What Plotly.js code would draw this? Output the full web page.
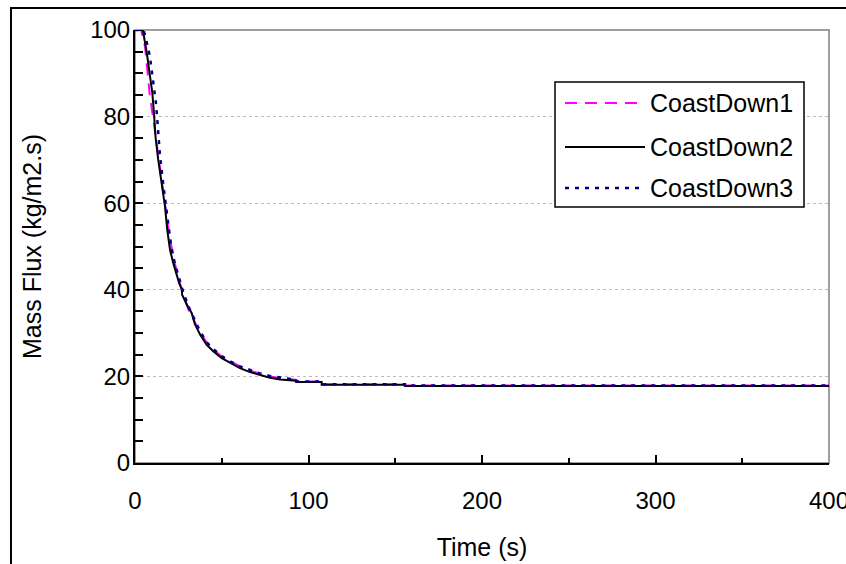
<!DOCTYPE html>
<html>
<head>
<meta charset="utf-8">
<script src="https://cdn.plot.ly/plotly-3.0.1.min.js"></script>
<style>html,body{margin:0;padding:0;background:#fff;}#chart{width:846px;height:564px;}</style>
</head>
<body>
<div id="chart"></div>
<script>
const seriesNames = ['CoastDown1', 'CoastDown2', 'CoastDown3'];

const time1 = [0, 3.5, 5.8, 6.7, 7.7, 8.6, 10.2, 11.5, 13.3, 15, 17, 19, 21, 23, 25.5, 28, 31, 34.6, 37.5, 41.3, 45.1, 50, 54.8, 60.5, 66.3, 72, 77.8, 83.6, 89.3, 93, 93, 107.6, 107.6, 155.6, 155.6, 400];
const flux1 = [100, 100, 96.1, 92.7, 88.5, 84.6, 80.4, 76.5, 71, 66, 60.2, 54.8, 50, 46, 42, 38.6, 35.2, 32.5, 30.2, 27.8, 26.2, 24.6, 23.5, 22.3, 21.3, 20.6, 20, 19.6, 19.3, 19.2, 18.8, 18.8, 18.2, 18.2, 17.9, 17.9];

const time2 = [0, 4.5, 6.7, 8.6, 10, 11, 11.9, 13.4, 15.4, 17.3, 18.6, 20.2, 22.1, 24, 25.5, 26.9, 27.2, 30, 32.7, 34.6, 37.5, 41.3, 45.1, 50, 54.8, 60.5, 66.3, 72, 77.8, 83.6, 89.3, 93, 93, 107.6, 107.6, 155.6, 155.6, 400];
const flux2 = [100, 100, 95, 90, 85.4, 80.4, 75, 70, 64.6, 59.2, 53.8, 49.2, 46.1, 43.4, 41.5, 40.2, 38.8, 36.5, 34.6, 32, 29.7, 27.3, 25.8, 24.2, 23.1, 21.9, 21, 20.3, 19.7, 19.3, 19.1, 19, 18.7, 18.7, 18.1, 18.1, 17.8, 17.8];

const time3 = [0, 5, 7.5, 8.6, 9.6, 11.1, 12.1, 13, 14.3, 16.2, 18, 19.4, 21, 23, 25.5, 28, 31, 34.6, 37.5, 41.3, 45.1, 50, 54.8, 60.5, 66.3, 72, 77.8, 83.6, 89.3, 93, 93, 107.6, 107.6, 155.6, 155.6, 400];
const flux3 = [100, 100, 96, 93.8, 90.8, 86.5, 83, 78.5, 71.5, 64.6, 59.6, 54.5, 49.7, 46, 42.6, 39.2, 36, 32.8, 30.4, 27.9, 26.3, 24.7, 23.5, 22.3, 21.4, 20.7, 20.1, 19.7, 19.4, 19.2, 18.8, 18.8, 18.2, 18.2, 17.9, 17.9];

const xTickVals = [0, 100, 200, 300, 400];
const yTickVals = [0, 20, 40, 60, 80, 100];

const colors = ['#ff00ff', '#000000', '#000080'];
const dashes = ['12px,8px', 'solid', '4px,6px'];
const widths = [2, 2, 2.5];

const xs = [time1, time2, time3];
const ys = [flux1, flux2, flux3];

const data = seriesNames.map((n, i) => ({
  type: 'scatter', mode: 'lines', name: n,
  x: xs[i], y: ys[i],
  line: {color: colors[i], width: widths[i], dash: dashes[i]},
  showlegend: false
}));

// custom legend (layout decoration)
const legX0 = 0.6052, legX1 = 0.964, legY0 = 0.5912, legY1 = 0.8799;
const rowY = [0.8314, 0.7298, 0.6351];
const shapes = [
  {type: 'rect', xref: 'paper', yref: 'paper', x0: 0, x1: 1, y0: 0, y1: 1, line: {color: '#808080', width: 1.5}, layer: 'below'},
  {type: 'rect', xref: 'paper', yref: 'paper', x0: -0.1787, x1: 1.1, y0: -0.3, y1: 1.0508, line: {color: '#000', width: 2}},
  {type: 'rect', xref: 'paper', yref: 'paper', x0: legX0, x1: legX1, y0: legY0, y1: legY1, line: {color: '#000', width: 1.5}, fillcolor: '#fff'}
];
const annotations = [];
seriesNames.forEach((n, i) => {
  shapes.push({type: 'line', xref: 'paper', yref: 'paper', x0: 0.6196, x1: 0.7349, y0: rowY[i], y1: rowY[i],
    line: {color: colors[i], width: widths[i], dash: dashes[i]}});
  annotations.push({xref: 'paper', yref: 'paper', x: 0.951, y: rowY[i], xanchor: 'right', yanchor: 'middle',
    text: n, showarrow: false, font: {size: 25, color: '#000'}});
});

const layout = {
  width: 846, height: 564,
  margin: {l: 135, r: 17, t: 30, b: 101},
  paper_bgcolor: '#fff', plot_bgcolor: '#fff',
  font: {family: 'Liberation Sans, Arial, sans-serif', size: 24, color: '#000'},
  showlegend: false,
  xaxis: {
    range: [0, 400], tickvals: xTickVals, ticktext: xTickVals.map(String),
    ticks: 'inside', ticklen: 8, tickwidth: 2, tickcolor: '#000',
    minor: {dtick: 50, tick0: 0, ticks: 'inside', ticklen: 5, tickwidth: 2, tickcolor: '#000', showgrid: false},
    showline: true, linecolor: '#000', linewidth: 2,
    showgrid: false, zeroline: false, automargin: false,
    ticklabelstandoff: 15, ticklabeloverflow: 'allow',
    title: {text: 'Time (s)', standoff: 26, font: {size: 25}}
  },
  yaxis: {
    range: [0, 100], tickvals: yTickVals, ticktext: yTickVals.map(String),
    ticks: 'inside', ticklen: 8, tickwidth: 2, tickcolor: '#000',
    minor: {dtick: 5, tick0: 0, ticks: 'inside', ticklen: 8, tickwidth: 2, tickcolor: '#000', showgrid: false},
    showline: true, linecolor: '#000', linewidth: 2,
    showgrid: true, gridcolor: '#bdbdbd', griddash: 'dot', gridwidth: 1,
    zeroline: false, automargin: false,
    ticklabelstandoff: -2, ticklabeloverflow: 'allow',
    title: {text: 'Mass Flux (kg/m2.s)', standoff: 41, font: {size: 25}}
  },
  shapes: shapes,
  annotations: annotations
};

Plotly.newPlot('chart', data, layout, {staticPlot: true, displayModeBar: false});
</script>
</body>
</html>
